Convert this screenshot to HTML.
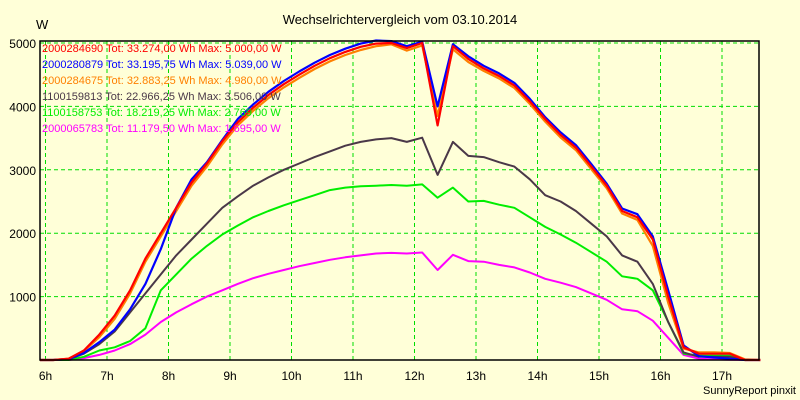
<!DOCTYPE html>
<html><head><meta charset="utf-8"><style>
body{margin:0;background:#ffffd8;}
svg{display:block;font-family:"Liberation Sans",sans-serif;}
</style></head><body>
<svg id="chart" width="800" height="400">
<rect x="0" y="0" width="800" height="400" fill="#ffffd8"/>
<text x="400" y="24" font-size="13" text-anchor="middle" fill="#000">Wechselrichtervergleich vom 03.10.2014</text>
<text x="36" y="29" font-size="13" fill="#000">W</text>
<text x="796" y="394" font-size="11" text-anchor="end" fill="#000">SunnyReport pinxit</text>
<g id="grid"></g><g id="series"></g><g id="axes"></g><g id="legend"></g>
</svg>
<script>
const times=[];for(let k=0;k<47;k++)times.push(6.125+0.25*k);
const yTicks=[1000,2000,3000,4000,5000];
const xTicks=[6,7,8,9,10,11,12,13,14,15,16,17];
const sRed=[0,20,150,400,700,1100,1600,2000,2400,2800,3100,3450,3750,3980,4180,4350,4500,4640,4760,4860,4940,4990,5000,4920,5000,3700,4950,4750,4600,4480,4330,4080,3800,3550,3350,3050,2750,2350,2250,1900,1000,200,100,100,100,0,0];
const sBlue=[0,15,110,280,480,800,1200,1750,2400,2850,3120,3470,3800,4030,4230,4400,4550,4690,4810,4910,4990,5039,5030,4950,5020,4000,4980,4790,4640,4520,4370,4120,3830,3590,3390,3090,2780,2390,2300,1950,1100,230,60,40,20,0,0];
const sOrange=[0,20,140,360,650,1050,1550,1950,2350,2750,3050,3400,3700,3930,4130,4300,4450,4590,4710,4810,4890,4950,4980,4880,4960,3850,4900,4700,4560,4440,4290,4040,3760,3510,3310,3010,2710,2310,2210,1800,900,180,120,120,110,10,0];
const sDark=[0,10,100,250,450,750,1050,1350,1650,1900,2150,2400,2580,2750,2880,3000,3100,3200,3290,3380,3440,3480,3500,3440,3506,2920,3440,3220,3200,3120,3050,2850,2600,2500,2350,2150,1950,1650,1550,1200,600,120,50,50,50,0,0];
const sGreen=[0,0,50,150,200,300,500,1100,1350,1600,1800,1980,2120,2250,2350,2440,2520,2600,2680,2720,2740,2750,2760,2750,2769,2560,2720,2500,2510,2450,2400,2250,2100,1980,1850,1700,1550,1320,1280,1100,600,100,70,70,70,0,0];
const sMagenta=[0,0,30,80,150,250,400,600,750,880,1000,1100,1200,1290,1360,1420,1480,1530,1580,1620,1650,1680,1690,1680,1695,1420,1660,1560,1550,1500,1460,1380,1280,1220,1150,1050,950,800,770,620,350,80,20,10,5,0,0];
const seriesData=[sRed,sBlue,sOrange,sDark,sGreen,sMagenta];
const colors=["#ff0000","#0000ff","#ff8000","#4a3848","#00ee00","#ff00ff"];
const names=["red","blue","orange","dark","green","magenta"];
const legendLabels=["2000284690 Tot: 33.274,00 Wh Max: 5.000,00 W","2000280879 Tot: 33.195,75 Wh Max: 5.039,00 W","2000284675 Tot: 32.883,25 Wh Max: 4.980,00 W","1100159813 Tot: 22.966,25 Wh Max: 3.506,00 W","1100158753 Tot: 18.219,25 Wh Max: 2.769,00 W","2000065783 Tot: 11.179,50 Wh Max: 1.695,00 W"];
const X=h=>45.5+(h-6)*61.5, Y=v=>360-v*0.0634;
const NS="http://www.w3.org/2000/svg";
function mk(tag,attrs,parent){const e=document.createElementNS(NS,tag);for(const k in attrs)e.setAttribute(k,attrs[k]);parent.appendChild(e);return e;}
const grid=document.getElementById('grid'),axes=document.getElementById('axes'),ser=document.getElementById('series'),leg=document.getElementById('legend');
const L=40,R=759,T=41,B=360;
xTicks.forEach(h=>{
 const l=mk('line',{x1:X(h),x2:X(h),y1:T,y2:B,stroke:'#00dd00','stroke-dasharray':'4,3'},grid);
 
 
 const t=mk('text',{x:X(h),y:380,'font-size':12,'text-anchor':'middle',fill:'#000'},axes);t.textContent=h+'h';
 
 
});
yTicks.forEach(v=>{
 const l=mk('line',{x1:L,x2:R,y1:Y(v),y2:Y(v),stroke:'#00dd00','stroke-dasharray':'4,3'},grid);
 
 
 const t=mk('text',{x:36,y:Y(v)+5,'font-size':12,'text-anchor':'end',fill:'#000'},axes);t.textContent=v;
 
 
});
const fr=mk('path',{d:`M${L} ${T}H${R}V${B}H${L}Z`,fill:'none',stroke:'#000','stroke-width':1.5},axes);


for(let i=seriesData.length-1;i>=0;i--){
 const d='M'+L+' '+Y(0)+'L'+seriesData[i].map((v,k)=>X(times[k]).toFixed(1)+' '+Y(v).toFixed(1)).join('L');
 const p=mk('path',{d:d,fill:'none',stroke:colors[i],'stroke-width':i<3?2.2:2,'stroke-linejoin':'round'},ser);
 
 
}
legendLabels.forEach((s,i)=>{
 const t=mk('text',{x:42,y:52+i*16,'font-size':11,fill:colors[i]},leg);t.textContent=s;
 
 
});
</script>
</body></html>
